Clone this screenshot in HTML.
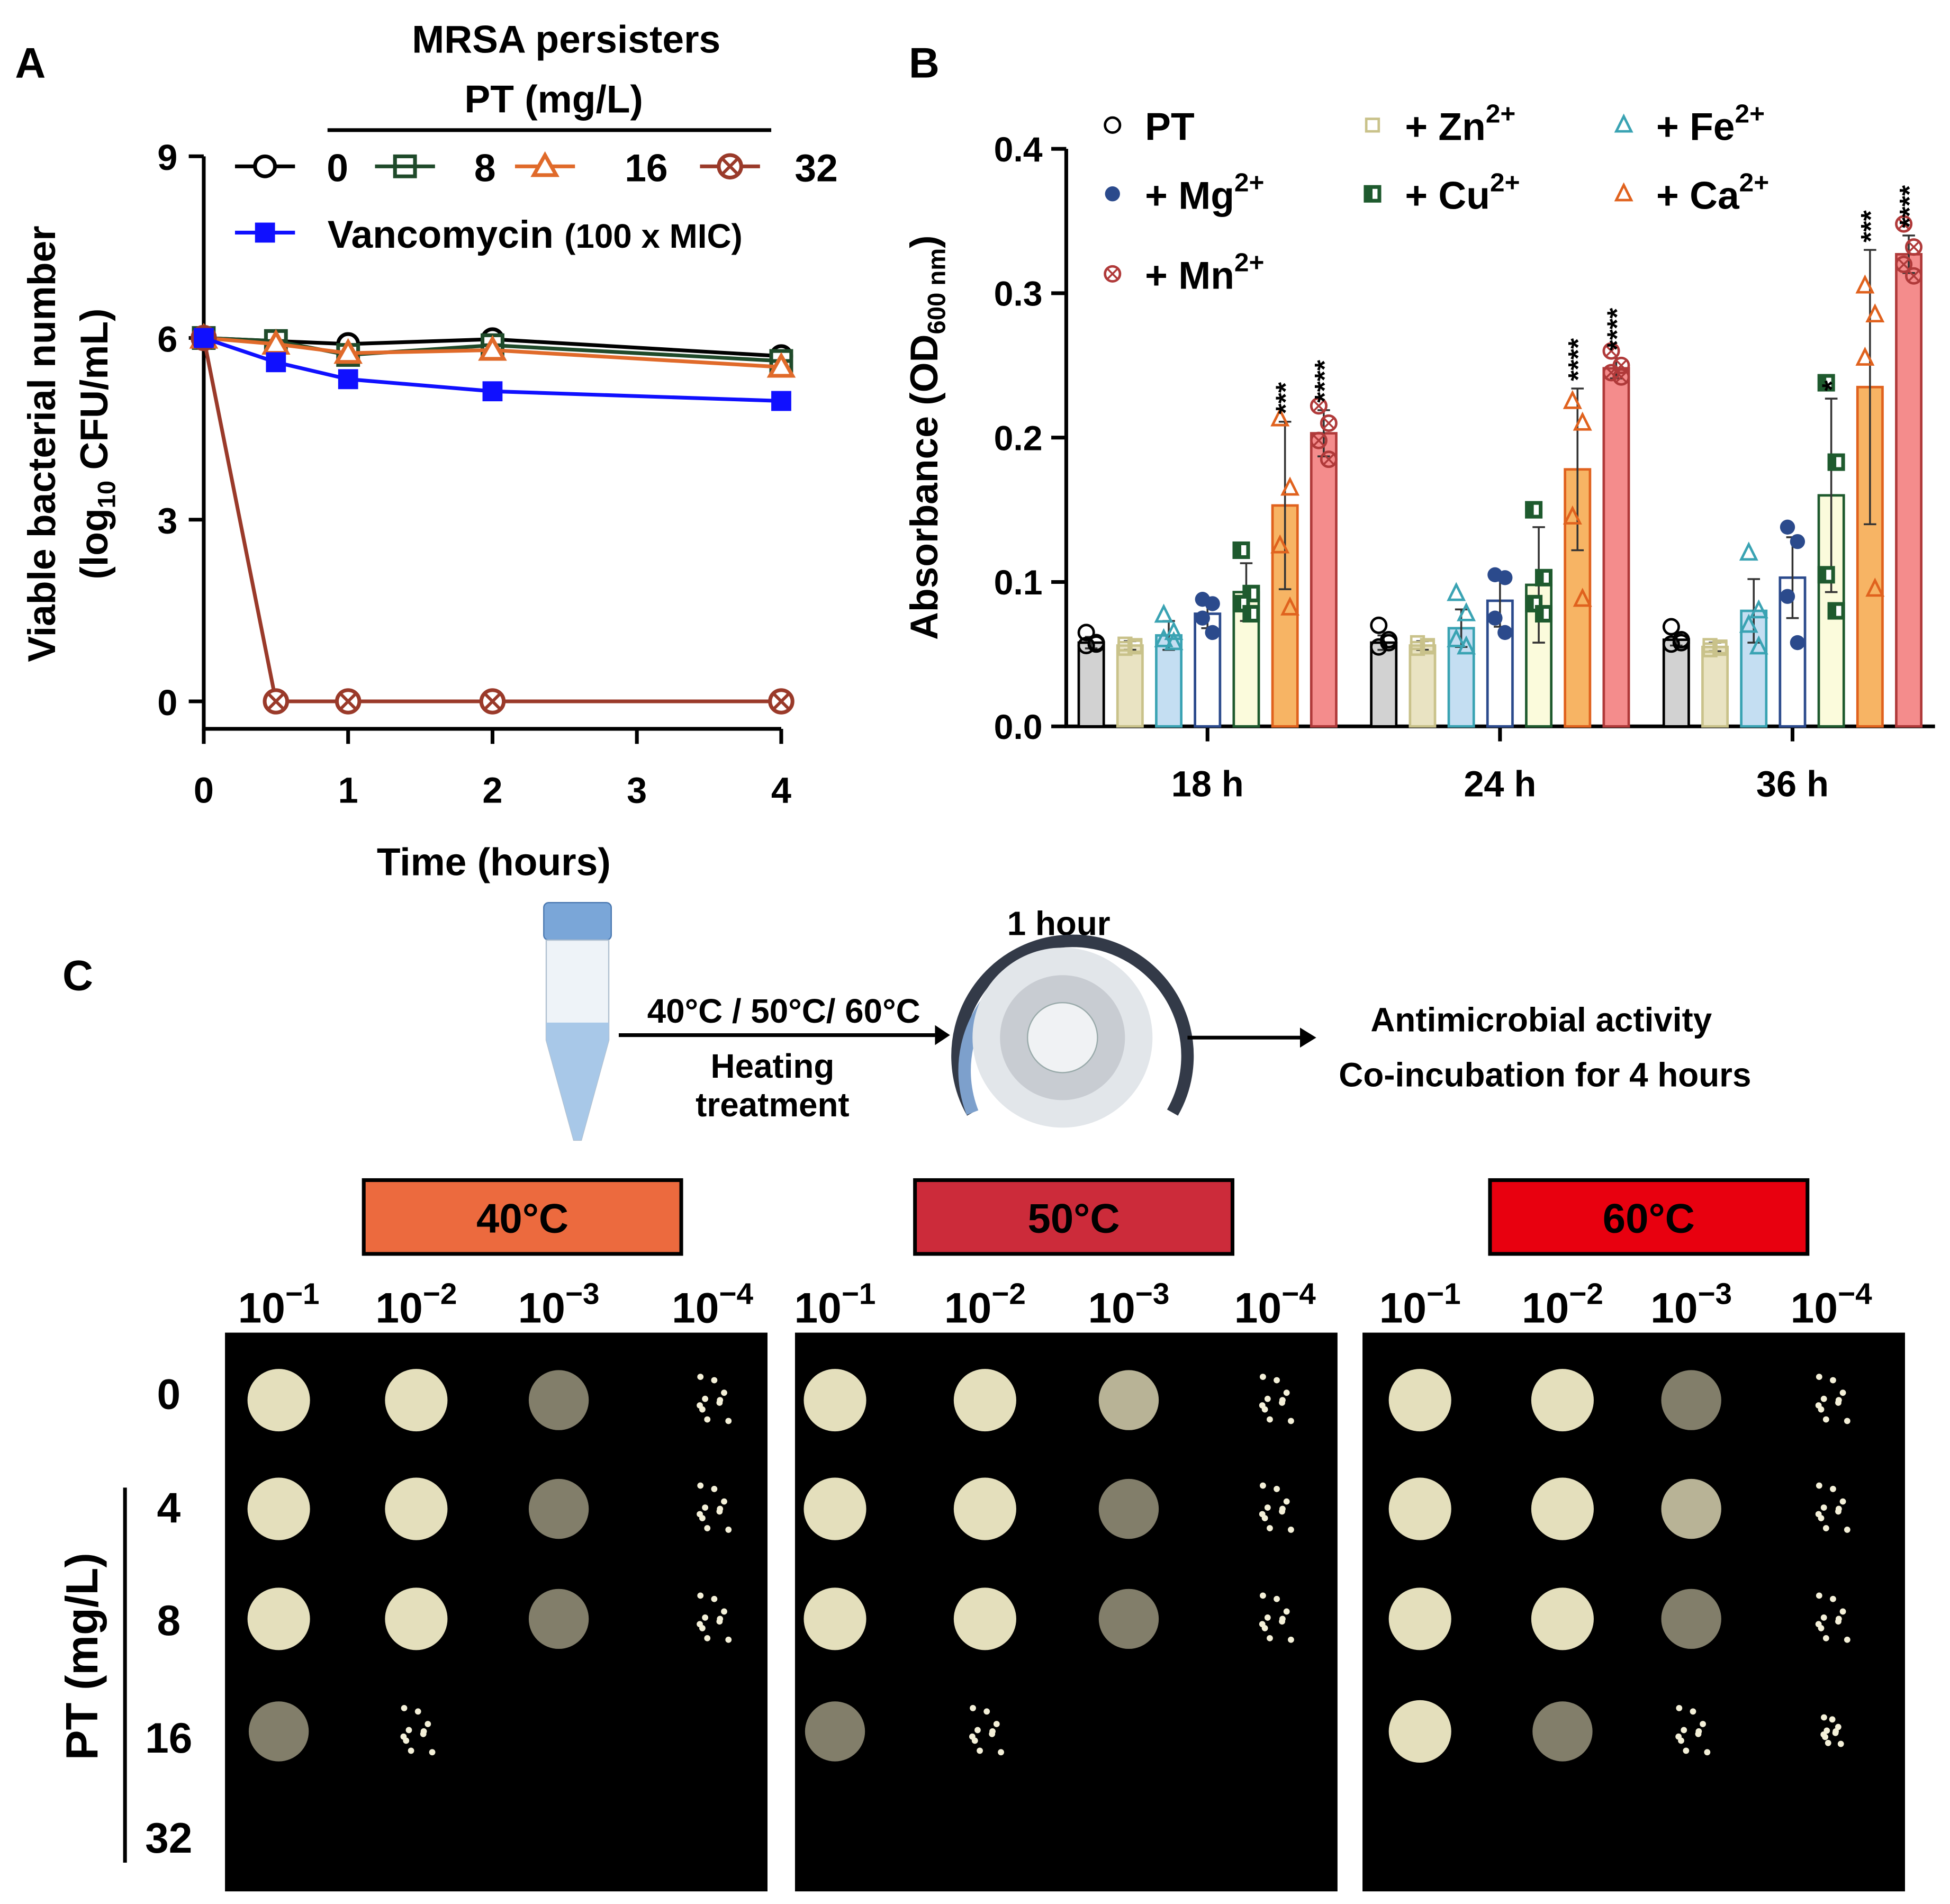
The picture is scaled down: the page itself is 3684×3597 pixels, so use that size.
<!DOCTYPE html>
<html><head><meta charset="utf-8"><style>
html,body{margin:0;padding:0;background:#fff}
svg{display:block}
text{font-family:"Liberation Sans",Arial,sans-serif;font-weight:bold;fill:#000}
</style></head><body>
<svg id="fig" width="3684" height="3597" viewBox="0 0 1560 1523" xmlns="http://www.w3.org/2000/svg">
<g id="panelA">
<text x="12" y="62" font-size="34">A</text>
<text x="453" y="42" font-size="31" text-anchor="middle">MRSA persisters</text>
<text x="443" y="90" font-size="31" text-anchor="middle">PT (mg/L)</text>
<line x1="262" y1="104" x2="617" y2="104" stroke="#000" stroke-width="3"/>
<text transform="translate(44,355) rotate(-90)" font-size="31" text-anchor="middle">Viable bacterial number</text>
<text transform="translate(86,355) rotate(-90)" font-size="31" text-anchor="middle">(log<tspan font-size="20" dy="6">10</tspan><tspan dy="-6"> CFU/mL)</tspan></text>
<text x="395" y="700" font-size="31" text-anchor="middle">Time (hours)</text>
<g id="axA"></g><g id="seriesA"></g><g id="legA"></g>
</g>
<g id="panelB">
<text x="727" y="62" font-size="34">B</text>
<text transform="translate(750,350) rotate(-90)" font-size="31" text-anchor="middle">Absorbance (OD<tspan font-size="20" dy="6">600 nm</tspan><tspan dy="-6">)</tspan></text>
<g id="axB"></g><g id="barsB"></g><g id="legB"></g>
</g>
<g id="panelC">
<text x="50" y="792" font-size="34">C</text>
<g>
<rect x="435" y="722" width="54" height="30" rx="4" fill="#7aa6d8" stroke="#4a78b0"/>
<path d="M437 752 L487 752 L487 832 L465 912 L459 912 L437 832 Z" fill="#eef3f8" stroke="#b0c0d0"/>
<path d="M437 818 L487 818 L487 832 L465 912 L459 912 L437 832 Z" fill="#a8c8e8"/>
</g>
<line x1="495" y1="828" x2="748" y2="828" stroke="#000" stroke-width="3"/><path d="M748 820 L760 828 L748 836 Z"/>
<text x="627" y="818" font-size="27" text-anchor="middle">40°C / 50°C/ 60°C</text>
<text x="618" y="862" font-size="27" text-anchor="middle">Heating</text>
<text x="618" y="893" font-size="27" text-anchor="middle">treatment</text>
<text x="847" y="748" font-size="27" text-anchor="middle">1 hour</text>
<g>
<path d="M778 890 A92 92 0 1 1 938 890" fill="none" stroke="#333a48" stroke-width="10"/>
<path d="M778 890 A92 92 0 0 1 800 790" fill="none" stroke="#7da0cc" stroke-width="10"/>
<circle cx="850" cy="830" r="72" fill="#e2e6ea"/>
<circle cx="850" cy="830" r="50" fill="#c8ccd2"/>
<circle cx="850" cy="830" r="28" fill="#f0f2f4" stroke="#9aa"/>
</g>
<line x1="950" y1="830" x2="1042" y2="830" stroke="#000" stroke-width="3"/><path d="M1040 822 L1053 830 L1040 838 Z"/>
<text x="1233" y="825" font-size="27" text-anchor="middle">Antimicrobial activity</text>
<text x="1236" y="869" font-size="27" text-anchor="middle">Co-incubation for 4 hours</text>
<g id="plates"></g>
<text x="135" y="1127" font-size="34" text-anchor="middle">0</text>
<text x="135" y="1218" font-size="34" text-anchor="middle">4</text>
<text x="135" y="1308" font-size="34" text-anchor="middle">8</text>
<text x="135" y="1402" font-size="34" text-anchor="middle">16</text>
<text x="135" y="1482" font-size="34" text-anchor="middle">32</text>
<line x1="100" y1="1190" x2="100" y2="1490" stroke="#000" stroke-width="3"/>
<text transform="translate(78,1325) rotate(-90)" font-size="36" text-anchor="middle">PT (mg/L)</text>
</g>
<script>
const NS="http://www.w3.org/2000/svg";
function mk(p,t,a){const e=document.createElementNS(NS,t);for(const k in a)e.setAttribute(k,a[k]);p.appendChild(e);return e;}
function span(p,txt,a){const s=mk(p,'tspan',a||{});s.textContent=txt;return s;}
// ---------- Panel A data ----------
const timesA=[0,0.5,1,2,4];
const pt0=[6,5.95,5.9,5.98,5.7];
const pt8=[6,5.95,5.72,5.88,5.62];
const pt16=[6,5.9,5.75,5.8,5.52];
const pt32=[6,0,0,0,0];
const vanco=[6,5.6,5.32,5.12,4.96];
const xTicksA=[0,1,2,3,4];
const yTicksA=[0,3,6,9];
const xA=t=>163+t*115.5, yA=v=>561-v*48.45;
const axA=document.getElementById('axA');
mk(axA,'path',{d:'M163 125 L163 583 L625 583',fill:'none',stroke:'#000','stroke-width':3});
yTicksA.forEach(v=>{mk(axA,'line',{x1:151,x2:163,y1:yA(v),y2:yA(v),stroke:'#000','stroke-width':3});
 const t=mk(axA,'text',{x:142,y:yA(v)+11,'font-size':29,'text-anchor':'end'});t.textContent=v;
 
 });
xTicksA.forEach(v=>{mk(axA,'line',{x1:xA(v),x2:xA(v),y1:583,y2:595,stroke:'#000','stroke-width':3});
 const t=mk(axA,'text',{x:xA(v),y:642,'font-size':29,'text-anchor':'middle'});t.textContent=v;
 
 });
function marker(g,x,y,type,col){
 if(type==='circle'){mk(g,'circle',{cx:x,cy:y,r:8,fill:'#fff',stroke:col,'stroke-width':3});}
 else if(type==='square'){mk(g,'rect',{x:x-8,y:y-8,width:16,height:16,fill:'#fff',stroke:col,'stroke-width':3});mk(g,'line',{x1:x-8,x2:x+8,y1:y,y2:y,stroke:col,'stroke-width':3});}
 else if(type==='tri'){mk(g,'path',{d:`M${x} ${y-9} L${x+9} ${y+7} L${x-9} ${y+7} Z`,fill:'#fff',stroke:col,'stroke-width':3});}
 else if(type==='xcirc'){mk(g,'circle',{cx:x,cy:y,r:9,fill:'#fff',stroke:col,'stroke-width':3});mk(g,'path',{d:`M${x-6} ${y-6} L${x+6} ${y+6} M${x+6} ${y-6} L${x-6} ${y+6}`,stroke:col,'stroke-width':2.5});}
 else if(type==='fsq'){mk(g,'rect',{x:x-8,y:y-8,width:16,height:16,fill:col});}
}
const seriesA=[['pt-0',pt0,'#000','circle'],['pt-8',pt8,'#1f4a2a','square'],['pt-16',pt16,'#e06a2a','tri'],['pt-32',pt32,'#9a3a2a','xcirc'],['vancomycin',vanco,'#1010ff','fsq']];
const gA=document.getElementById('seriesA');
seriesA.forEach(([n,vals,col,m])=>{const g=mk(gA,'g',{});
 
 
 mk(g,'polyline',{points:vals.map((v,i)=>xA(timesA[i])+','+yA(v)).join(' '),fill:'none',stroke:col,'stroke-width':3});
 vals.forEach((v,i)=>marker(g,xA(timesA[i]),yA(v),m,col));});
const legA=document.getElementById('legA');
[['0',188,270,'#000','circle'],['8',300,388,'#1f4a2a','square'],['16',412,517,'#e06a2a','tri'],['32',560,653,'#9a3a2a','xcirc']].forEach(([l,x,tx,col,m])=>{
 const g=mk(legA,'g',{});
 mk(g,'line',{x1:x,x2:x+48,y1:133,y2:133,stroke:col,'stroke-width':3});marker(g,x+24,133,m,col);
 const t=mk(g,'text',{x:tx,y:145,'font-size':31,'text-anchor':'middle'});t.textContent=l;});
{const g=mk(legA,'g',{});
 mk(g,'line',{x1:188,x2:236,y1:186,y2:186,stroke:'#1010ff','stroke-width':3});marker(g,212,186,'fsq','#1010ff');
 const t=mk(g,'text',{x:262,y:198,'font-size':31});span(t,'Vancomycin ');span(t,'(100 x MIC)',{'font-size':27});}
// ---------- Panel B data ----------
const groupsB=['18 h','24 h','36 h'];
const treatB=['PT','Zn','Fe','Mg','Cu','Ca','Mn'];
const meanPT=[0.058,0.058,0.060];
const meanZn=[0.056,0.056,0.055];
const meanFe=[0.063,0.068,0.080];
const meanMg=[0.078,0.087,0.103];
const meanCu=[0.093,0.098,0.160];
const meanCa=[0.153,0.178,0.235];
const meanMn=[0.203,0.248,0.327];
const sdB=[[0.004,0.005,0.004],[0.003,0.003,0.003],[0.010,0.013,0.022],[0.010,0.018,0.028],[0.020,0.040,0.067],[0.058,0.056,0.095],[0.016,0.007,0.013]];
const ptsB=[
 [[0.065,0.057,0.056,0.058],[0.070,0.058,0.055,0.060],[0.069,0.060,0.057,0.058]],
 [[0.057,0.055,0.054,0.056],[0.058,0.055,0.054,0.056],[0.056,0.054,0.053,0.055]],
 [[0.077,0.065,0.060,0.058],[0.092,0.078,0.060,0.055],[0.120,0.080,0.070,0.055]],
 [[0.088,0.085,0.075,0.065],[0.105,0.103,0.075,0.065],[0.138,0.128,0.090,0.058]],
 [[0.122,0.092,0.085,0.078],[0.150,0.103,0.085,0.078],[0.238,0.183,0.105,0.080]],
 [[0.213,0.165,0.125,0.082],[0.225,0.210,0.145,0.088],[0.305,0.285,0.255,0.095]],
 [[0.222,0.210,0.198,0.185],[0.260,0.250,0.245,0.242],[0.348,0.332,0.320,0.312]]];
const starsB=[['','','','','','***','****'],['','','','','','****','****'],['','','','','*','***','****']];
const yTicksB=[0,0.1,0.2,0.3,0.4];
const fillB=['#d2d2d2','#e9e3c2','#c4def2','#ffffff','#fbfbdc','#f7b464','#f48c8c'];
const edgeB=['#000000','#c9c28a','#3aa3b3','#2b4a8c','#1e5a2e','#e0621e','#b03a3a'];
const yB=v=>581-v*1155, gx=[966,1200,1434];
const axB=document.getElementById('axB');
mk(axB,'path',{d:'M853 119 L853 581 L1548 581',fill:'none',stroke:'#000','stroke-width':3});
yTicksB.forEach(v=>{mk(axB,'line',{x1:841,x2:853,y1:yB(v),y2:yB(v),stroke:'#000','stroke-width':3});
 const t=mk(axB,'text',{x:834,y:yB(v)+10,'font-size':28,'text-anchor':'end'});t.textContent=v.toFixed(1);
 
 });
groupsB.forEach((g,i)=>{mk(axB,'line',{x1:gx[i],x2:gx[i],y1:581,y2:593,stroke:'#000','stroke-width':3});
 const t=mk(axB,'text',{x:gx[i],y:637,'font-size':29,'text-anchor':'middle'});t.textContent=g;
 
 });
const meansB=[meanPT,meanZn,meanFe,meanMg,meanCu,meanCa,meanMn];
const mkB=['circle','square','tri','halfc','halfsq','tri','xcirc'];
const barsB=document.getElementById('barsB');
function markB(g,x,y,k,col){const m=mkB[k];
 if(m==='circle')mk(g,'circle',{cx:x,cy:y,r:6,fill:'none',stroke:col,'stroke-width':2});
 else if(m==='square')mk(g,'rect',{x:x-5,y:y-5,width:10,height:10,fill:'none',stroke:col,'stroke-width':2});
 else if(m==='tri')mk(g,'path',{d:`M${x} ${y-7} L${x+6} ${y+5} L${x-6} ${y+5} Z`,fill:'none',stroke:col,'stroke-width':2});
 else if(m==='halfc'){mk(g,'circle',{cx:x,cy:y,r:6,fill:col});}
 else if(m==='halfsq'){mk(g,'rect',{x:x-6,y:y-6,width:12,height:12,fill:col,stroke:col,'stroke-width':2});mk(g,'rect',{x:x,y:y-4,width:4,height:8,fill:'#fff'});}
 else {mk(g,'circle',{cx:x,cy:y,r:6,fill:'none',stroke:col,'stroke-width':2});mk(g,'path',{d:`M${x-4} ${y-4} L${x+4} ${y+4} M${x+4} ${y-4} L${x-4} ${y+4}`,stroke:col,'stroke-width':1.5});}}
groupsB.forEach((grp,gi)=>{treatB.forEach((tr,k)=>{
 const x=gx[gi]+(k-3)*31, v=meansB[k][gi], sd=sdB[k][gi];
 const g=mk(barsB,'g',{});
 
 
 mk(g,'rect',{x:x-10,y:yB(v),width:20,height:581-yB(v),fill:fillB[k],stroke:edgeB[k],'stroke-width':2});
 mk(g,'path',{d:`M${x} ${yB(v+sd)} L${x} ${yB(v-sd)} M${x-5} ${yB(v+sd)} L${x+5} ${yB(v+sd)} M${x-5} ${yB(v-sd)} L${x+5} ${yB(v-sd)}`,stroke:'#333','stroke-width':1.5,fill:'none'});
 ptsB[k][gi].forEach((p,j)=>markB(g,x+(j%2?4:-4),yB(p),k,edgeB[k]));
 const s=starsB[gi][k];if(s){const t=mk(g,'text',{transform:`translate(${x+8},${yB(v+sd)-6}) rotate(-90)`,'font-size':22});t.textContent=s;}
});});
const legB=document.getElementById('legB');
[['PT',890,100,0,''],['+ Mg',890,155,3,'2+'],['+ Mn',890,219,6,'2+'],['+ Zn',1098,100,1,'2+'],['+ Cu',1098,155,4,'2+'],['+ Fe',1299,100,2,'2+'],['+ Ca',1299,155,5,'2+']].forEach(([l,x,y,k,sup])=>{
 const g=mk(legB,'g',{});
 markB(g,x,y,k,edgeB[k]);
 const t=mk(g,'text',{x:x+26,y:y+12,'font-size':31});span(t,l);if(sup)span(t,sup,{'font-size':21,dy:-14});});
// ---------- Panel C ----------
const pl=document.getElementById('plates');
const temps=['40°C','50°C','60°C'],tcol=['#ec6a3e','#cc2b3a','#e8000f'],boxX=[291,732,1192];
const plateX=[180,636,1090];
const colX=[[223,333,447,570],[668,788,903,1020],[1136,1250,1353,1465]];
const rowY=[1120,1207,1295,1385];
const growth=[
 [[2,2,1,0.5],[2,2,1,0.5],[2,2,1,0.5],[1,0.5,0,0]],
 [[2,2,1.5,0.5],[2,2,1,0.5],[2,2,1,0.5],[1,0.5,0,0]],
 [[2,2,1,0.5],[2,2,1.5,0.5],[2,2,1,0.5],[2,1,0.5,0.3]]];
temps.forEach((tp,i)=>{
 const b=mk(pl,'rect',{x:boxX[i],y:944,width:254,height:59,fill:tcol[i],stroke:'#000','stroke-width':3});
 
 
 const t=mk(pl,'text',{x:boxX[i]+127,y:986,'font-size':33,'text-anchor':'middle'});t.textContent=tp;
 colX[i].forEach((cx,j)=>{const d=mk(pl,'text',{x:cx,y:1058,'font-size':34,'text-anchor':'middle'});span(d,'10');span(d,'−'+(j+1),{'font-size':24,dy:-15});});
 const r=mk(pl,'rect',{x:plateX[i],y:1066,width:434,height:447,fill:'#000'});
 
 
 growth[i].forEach((row,ri)=>row.forEach((gv,ci)=>{const x=colX[i][ci],y=rowY[ri];
  if(gv>=2)mk(pl,'circle',{cx:x,cy:y,r:25,fill:'#e4dfbc'});
  else if(gv>=1){mk(pl,'circle',{cx:x,cy:y,r:24,fill:'#d8d2b0',opacity:gv>1?0.85:0.6});}
  else if(gv>0){for(let a=0;a<10;a++){const ang=a*2.4,rr=6+(a%4)*5;mk(pl,'circle',{cx:x+Math.cos(ang)*rr*gv*2,cy:y+Math.sin(ang)*rr*gv*2,r:2.5,fill:'#f4f0d8'});}}
 }));
});
</script>
</svg>
</body></html>
